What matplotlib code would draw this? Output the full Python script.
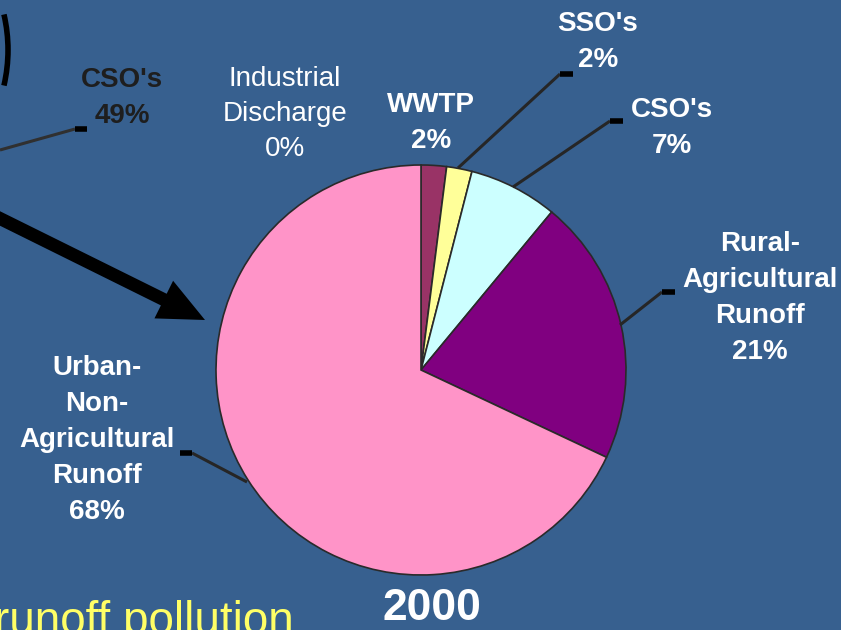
#!/usr/bin/env python3

# Pie of pollution sources for 2000, drawn in pixel coordinates so the
# labels can sit where they do on the slide.

import matplotlib
matplotlib.use("Agg")
import matplotlib.pyplot as pyplot
from matplotlib.patches import Arc

W, H = 841, 630
BG = "#37608f"

# slices, clockwise from 12 o'clock
sources = ["Industrial\nDischarge", "WWTP", "SSO's", "CSO's",
           "Rural-\nAgricultural\nRunoff", "Urban-\nNon-\nAgricultural\nRunoff"]
shares = [0, 2, 2, 7, 21, 68]
colors = ["#ffffff", "#993366", "#ffff99", "#ccffff", "#800080", "#ff94c8"]

# label centres, in pixels from the top left
label_pos = [(285, 114), (431, 123), (598, 42), (672, 128), (760, 298), (97, 440)]
# leader lines (pie end first), None where the slide has none
leaders = [None, None,
           [(458, 168), (560, 74), (573, 74)],
           [(513, 187), (610, 121), (623, 121)],
           [(620, 325), (662, 292), (675, 292)],
           [(247, 482), (192, 453), (180, 453)]]

FONT = ["Liberation Sans", "DejaVu Sans"]

def px(x, y):
	return (x, H - y)

def draw_leader(ax, pts, color="#262626"):
	xs = [px(*p)[0] for p in pts]
	ys = [px(*p)[1] for p in pts]
	ax.plot(xs[:2], ys[:2], color=color, lw=2.2, solid_capstyle="butt")
	ax.plot(xs[1:], ys[1:], color="black", lw=4, solid_capstyle="butt")

def main():
	fig = pyplot.figure(figsize=(W / 100, H / 100), dpi=100, facecolor=BG)
	ax = fig.add_axes([0, 0, 1, 1])
	ax.set_facecolor(BG)

	ax.pie(shares, colors=colors, startangle=90, counterclock=False,
	       center=px(421, 370), radius=205,
	       wedgeprops={"edgecolor": "#2a2a2a", "linewidth": 1.2})

	ax.set_xlim(0, W)
	ax.set_ylim(0, H)
	ax.set_aspect("equal")
	ax.axis("off")

	for i, (name, share) in enumerate(zip(sources, shares)):
		text = "%s\n%d%%" % (name, share)
		if share == 0:
			ax.text(*px(*label_pos[i]), text, ha="center", va="center",
			        color="white", fontsize=20, family=FONT,
			        linespacing=1.43)
		else:
			ax.text(*px(*label_pos[i]), text, ha="center", va="center",
			        color="white", fontsize=20, fontweight="bold",
			        family=FONT, linespacing=1.5)
		if leaders[i] is not None:
			draw_leader(ax, leaders[i])

	# remains of the previous slide's chart on the left
	ax.text(*px(122, 98), "CSO's\n49%", ha="center", va="center",
	        color="#1e1e1e", fontsize=20, fontweight="bold", family=FONT,
	        linespacing=1.5)
	draw_leader(ax, [(0, 150), (75, 129), (87, 129)], color="#303030")
	ax.add_patch(Arc(px(-150, 50), 316, 316, theta1=-13, theta2=13,
	                 color="black", lw=4))

	# big arrow pointing at the pie
	x0, y0 = px(-5, 216)
	x1, y1 = px(205, 320)
	ax.arrow(x0, y0, x1 - x0, y1 - y0, width=13, head_width=42,
	         head_length=46, length_includes_head=True, color="black", lw=0)

	ax.text(*px(432, 608), "2000", ha="center", va="center", color="white",
	        fontsize=32, fontweight="bold", family=FONT)
	ax.text(*px(-6, 634), "runoff pollution", ha="left", va="baseline",
	        color="#ffff66", fontsize=33, family=FONT)

	fig.savefig("out.png", dpi=100, facecolor=BG)

if (__name__ == "__main__"):
	main()
